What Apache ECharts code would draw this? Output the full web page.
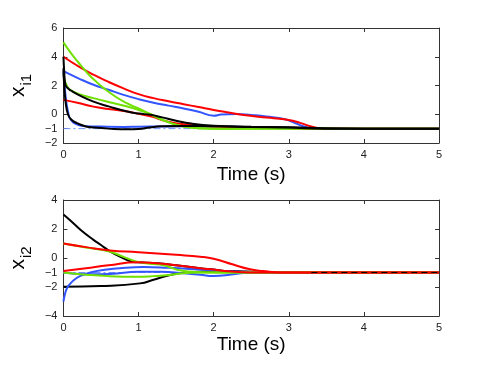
<!DOCTYPE html>
<html>
<head>
<meta charset="utf-8">
<script src="https://cdn.jsdelivr.net/npm/echarts@6/dist/echarts.min.js"></script>
<style>
  html, body { margin: 0; padding: 0; background: #fff; }
  #pic { width: 485px; height: 365px; }
</style>
</head>
<body>
<div id="pic"></div>
<script>
// top panel, x_i1
var tRed1 = [0, 0.2, 0.4, 0.6, 0.8, 1.0, 1.2, 1.4, 1.6, 1.8, 2.0, 2.2, 2.4, 2.6, 2.8, 3.0, 3.15, 3.3, 3.45, 5];
var vRed1 = [4, 3.33, 2.75, 2.25, 1.8, 1.4, 1.12, 0.9, 0.7, 0.5, 0.3, 0.12, -0.05, -0.18, -0.28, -0.4, -0.6, -0.85, -1, -1];
var tRed2 = [0, 0.2, 0.4, 0.6, 0.85, 1.0, 1.16, 1.38, 1.6, 2.0, 2.5, 3.0, 3.5, 5];
var vRed2 = [1.0, 0.78, 0.53, 0.37, 0.19, 0.03, -0.15, -0.5, -0.7, -0.85, -0.93, -0.98, -1, -1];
var tBlue1 = [0, 0.2, 0.4, 0.6, 0.8, 1.0, 1.2, 1.4, 1.6, 1.8, 2.0, 2.1, 2.3, 2.5, 2.7, 2.95, 3.1, 3.2, 3.35, 5];
var vBlue1 = [3, 2.5, 2.05, 1.7, 1.35, 1.05, 0.8, 0.6, 0.4, 0.17, -0.1, -0.02, 0.02, -0.05, -0.15, -0.35, -0.65, -0.85, -1, -1];
var tBlue2 = [0, 0.03, 0.06, 0.1, 0.2, 0.3, 0.5, 0.8, 1.0, 1.3, 1.6, 2.0, 2.5, 3.0, 3.5, 5];
var vBlue2 = [3, 1.2, 0.2, -0.4, -0.75, -0.83, -0.86, -0.88, -0.87, -0.85, -0.84, -0.85, -0.9, -0.95, -1, -1];
var tBlack1 = [0, 0.01, 0.025, 0.05, 0.1, 0.2, 0.4, 0.6, 0.85, 1.0, 1.16, 1.3, 1.5, 1.7, 2.0, 2.5, 3.0, 3.5, 5];
var vBlack1 = [4, 3.0, 2.1, 1.85, 1.65, 1.35, 0.88, 0.55, 0.19, 0.05, -0.04, -0.2, -0.45, -0.65, -0.8, -0.88, -0.93, -1, -1];
var tBlack2 = [0, 0.01, 0.03, 0.06, 0.1, 0.18, 0.3, 0.4, 0.6, 0.85, 1.0, 1.15, 1.3, 1.6, 2.0, 2.5, 3.0, 3.5, 4, 5];
var vBlack2 = [3.2, 2.0, 0.8, 0.0, -0.35, -0.62, -0.85, -0.92, -1.0, -1.05, -1.03, -0.92, -0.84, -0.82, -0.83, -0.87, -0.9, -0.98, -1, -1];
var tGreen1 = [0, 0.1, 0.2, 0.34, 0.45, 0.54, 0.7, 0.85, 1.0, 1.16, 1.3, 1.45, 1.6, 1.8, 2.0, 3.2, 3.4, 3.6, 5];
var vGreen1 = [5, 4.25, 3.6, 2.75, 2.2, 1.8, 1.2, 0.75, 0.4, 0.0, -0.35, -0.65, -0.85, -0.97, -1, -0.98, -0.96, -1, -1];
var tGreen2 = [0, 0.02, 0.05, 0.09, 0.2, 0.4, 0.6, 0.85, 1.0, 1.16, 1.3, 1.45, 1.6, 1.8, 2.0, 5];
var vGreen2 = [2.8, 2.3, 1.95, 1.7, 1.42, 1.12, 0.85, 0.54, 0.3, 0.0, -0.35, -0.65, -0.85, -0.97, -1, -1];

// bottom panel, x_i2
var tRed3 = [0, 0.3, 0.62, 1.0, 1.5, 1.82, 2.0, 2.26, 2.47, 2.66, 2.9, 5];
var vRed3 = [1.0, 0.75, 0.52, 0.4, 0.22, 0.09, -0.05, -0.45, -0.76, -0.9, -1, -1];
var tRed4 = [0, 0.3, 0.6, 0.98, 1.2, 1.5, 1.82, 2.0, 2.2, 2.5, 5];
var vRed4 = [-0.9, -0.7, -0.5, -0.3, -0.35, -0.5, -0.71, -0.8, -0.92, -1, -1];
var tBlue3 = [0, 0.02, 0.05, 0.1, 0.14, 0.2, 0.27, 0.4, 0.53, 0.75, 1.07, 1.4, 1.82, 2.2, 2.6, 3.0, 5];
var vBlue3 = [-3, -2.5, -2.05, -1.72, -1.52, -1.3, -1.15, -0.95, -0.83, -0.7, -0.62, -0.68, -0.8, -0.92, -0.98, -1, -1];
var tBlue4 = [0, 0.3, 0.62, 1.0, 1.3, 1.6, 1.82, 2.0, 2.26, 2.5, 5];
var vBlue4 = [-1, -1.12, -1.1, -0.95, -0.95, -1.05, -1.15, -1.24, -1.12, -1.0, -1];
var tBlack3 = [0, 0.1, 0.23, 0.4, 0.5, 0.62, 0.75, 0.89, 1.0, 1.2, 1.5, 1.82, 2.0, 2.2, 2.5, 5];
var vBlack3 = [3.0, 2.55, 1.93, 1.25, 0.9, 0.45, 0.1, -0.22, -0.3, -0.35, -0.5, -0.71, -0.8, -0.92, -1, -1];
var tBlack4 = [0, 0.5, 1.02, 1.2, 1.42, 1.6, 1.82, 2.2, 2.6, 3.0, 5];
var vBlack4 = [-1.98, -1.93, -1.75, -1.5, -1.17, -1.02, -0.94, -0.9, -0.95, -1, -1];
var tGreen3 = [0, 0.3, 0.62, 0.8, 0.98, 1.15, 1.33, 1.45, 1.55, 1.7, 2.0, 3.0, 3.3, 3.6, 5];
var vGreen3 = [1.0, 0.72, 0.43, 0.08, -0.25, -0.4, -0.5, -0.7, -0.85, -0.95, -1, -0.98, -0.97, -1, -1];
var tGreen4 = [0, 0.3, 0.6, 0.98, 1.2, 1.42, 1.6, 1.8, 5];
var vGreen4 = [-1, -1.15, -1.25, -1.29, -1.25, -1.17, -1.05, -1.0, -1];

// reference level
var tRef = [0, 5];
var vRef = [-1, -1];
var tTail = [3.3, 5];
var vTail = [-1, -1];

var yTicksTop = [-2, -1, 0, 2, 4, 6];
var yTicksBot = [-4, -2, -1, 0, 2, 4];

var RED = '#ff0000', BLUE = '#3355ff', BLACK = '#000000', GREEN = '#6fe000';

function pairs(t, v) {
    var out = [];
    for (var i = 0; i < t.length; i++) out.push([t[i], v[i]]);
    return out;
}
function minus(val) {
    return String(val).replace('-', '\u2212');
}

var tickFont = { fontFamily: 'Liberation Sans', fontSize: 11, color: '#222' };
var lineAx = { show: true, onZero: false, lineStyle: { color: '#333', width: 1 } };

function xAx(grid, pos, gap) {
    return {
        type: 'value', gridIndex: grid, position: pos, min: 0, max: 5, interval: 1,
        axisLine: lineAx, splitLine: { show: false },
        axisTick: { show: true, inside: true, length: 4, lineStyle: { color: '#333' } },
        axisLabel: gap ? Object.assign({ show: true, margin: 6, formatter: minus }, tickFont) : { show: false },
        name: gap ? 'Time (s)' : '', nameLocation: 'middle', nameGap: gap || 0,
        nameTextStyle: { fontFamily: 'Liberation Sans', fontSize: 19, color: '#000' }
    };
}
function yAx(grid, pos, lo, hi, ticks, name) {
    return {
        type: 'value', gridIndex: grid, position: pos, min: lo, max: hi, interval: 1,
        axisLine: lineAx, splitLine: { show: false },
        axisTick: { show: true, inside: true, length: 4, customValues: ticks, lineStyle: { color: '#333' } },
        axisLabel: name ? Object.assign({ show: true, margin: 6, customValues: ticks, formatter: minus }, tickFont) : { show: false },
        name: name || '', nameLocation: 'middle', nameGap: 26,
        nameTextStyle: {
            fontFamily: 'Liberation Sans', color: '#000',
            rich: {
                a: { fontFamily: 'Liberation Sans', fontSize: 21, color: '#000', lineHeight: 26, verticalAlign: 'top' },
                b: { fontFamily: 'Liberation Sans', fontSize: 15, color: '#000', lineHeight: 26, verticalAlign: 'bottom', padding: [10, 0, 0, 1] }
            }
        }
    };
}
function curve(name, t, v, color, axis) {
    return {
        name: name, type: 'line', xAxisIndex: axis, yAxisIndex: axis,
        data: pairs(t, v), showSymbol: false, smooth: 0.5,
        lineStyle: { color: color, width: 2 }, silent: true, z: 3
    };
}
function refLine(t, v, color, dash, axis, z) {
    return {
        type: 'line', xAxisIndex: axis, yAxisIndex: axis, data: pairs(t, v), showSymbol: false,
        lineStyle: { color: color, width: 1, type: dash }, silent: true, z: z
    };
}

var myChart = echarts.init(document.getElementById('pic'), null, { renderer: 'canvas' });
var option = {
    animation: false,
    backgroundColor: '#fff',
    grid: [
        { left: 63, top: 28, width: 376, height: 115 },
        { left: 63, top: 200, width: 376, height: 116 }
    ],
    xAxis: [
        xAx(0, 'bottom', 22), xAx(0, 'top', 0),
        xAx(1, 'bottom', 19), xAx(1, 'top', 0)
    ],
    yAxis: [
        yAx(0, 'left', -2, 6, yTicksTop, '{a|x}{b|i1}'), yAx(0, 'right', -2, 6, yTicksTop, null),
        yAx(1, 'left', -4, 4, yTicksBot, '{a|x}{b|i2}'), yAx(1, 'right', -4, 4, yTicksBot, null)
    ],
    series: [
        refLine(tRef, vRef, '#7090ff', [7, 3, 2, 3], 0, 2),
        curve('blue1', tBlue1, vBlue1, BLUE, 0),
        curve('blue2', tBlue2, vBlue2, BLUE, 0),
        curve('red1', tRed1, vRed1, RED, 0),
        curve('red2', tRed2, vRed2, RED, 0),
        curve('green1', tGreen1, vGreen1, GREEN, 0),
        curve('green2', tGreen2, vGreen2, GREEN, 0),
        curve('black1', tBlack1, vBlack1, BLACK, 0),
        curve('black2', tBlack2, vBlack2, BLACK, 0),
        refLine(tTail, vTail, BLACK, [6, 4], 0, 4),

        refLine(tRef, vRef, '#7090ff', [7, 3, 2, 3], 2, 2),
        curve('black3', tBlack3, vBlack3, BLACK, 2),
        curve('black4', tBlack4, vBlack4, BLACK, 2),
        curve('blue3', tBlue3, vBlue3, BLUE, 2),
        curve('blue4', tBlue4, vBlue4, BLUE, 2),
        curve('green3', tGreen3, vGreen3, GREEN, 2),
        curve('green4', tGreen4, vGreen4, GREEN, 2),
        curve('red3', tRed3, vRed3, RED, 2),
        curve('red4', tRed4, vRed4, RED, 2),
        refLine(tTail, vTail, BLACK, [6, 4], 2, 4)
    ]
};
myChart.setOption(option);
</script>
</body>
</html>
